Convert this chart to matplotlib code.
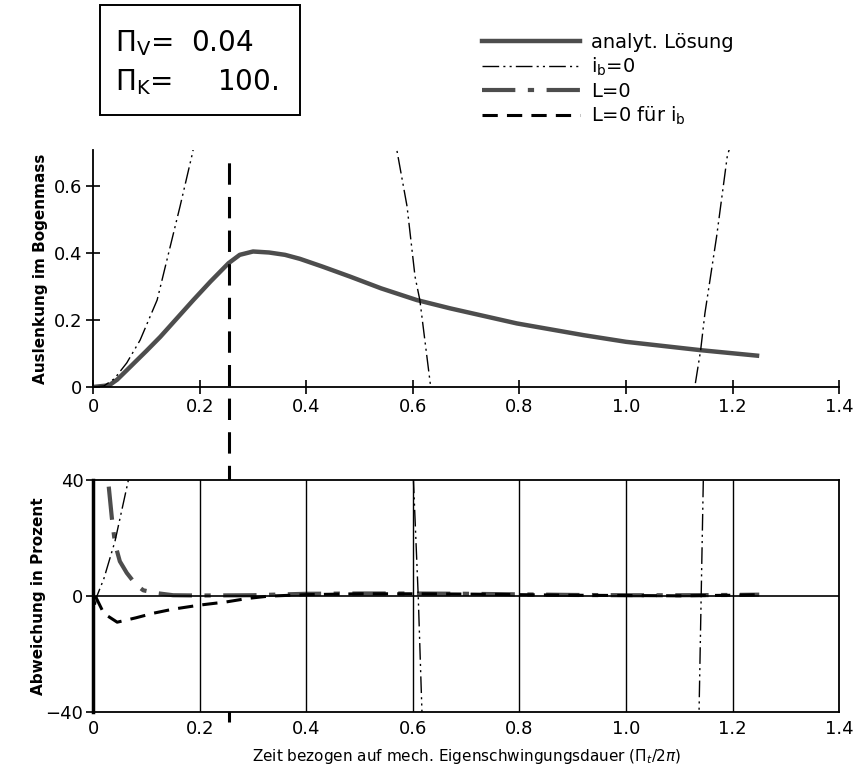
import matplotlib

matplotlib.use("Agg")
import matplotlib.pyplot as plt
from matplotlib.lines import Line2D
from matplotlib.patches import Rectangle
from matplotlib.transforms import blended_transform_factory

# upper panel: displacement (rad) over t / T_mech
t_analyt = [0, 0.03, 0.045, 0.063, 0.1, 0.126, 0.188, 0.22, 0.254, 0.275, 0.3, 0.33,
            0.36, 0.388, 0.43, 0.482, 0.54, 0.607, 0.67, 0.795, 0.92, 1.0, 1.14, 1.25]
y_analyt = [0, 0.005, 0.022, 0.05, 0.108, 0.15, 0.26, 0.315, 0.37, 0.395, 0.405, 0.402,
            0.395, 0.383, 0.36, 0.33, 0.295, 0.26, 0.235, 0.19, 0.155, 0.135, 0.11, 0.093]

t_ib0 = [0, 0.02, 0.04, 0.063, 0.088, 0.12, 0.163, 0.185, 0.2, 0.4, 0.56, 0.57, 0.589,
         0.604, 0.613, 0.633, 0.65, 0.9, 1.12, 1.129, 1.14, 1.148, 1.17, 1.19, 1.21]
y_ib0 = [0, 0.003, 0.025, 0.072, 0.14, 0.26, 0.54, 0.69, 0.8, 1.5, 0.76, 0.707, 0.54,
         0.33, 0.26, 0.005, -0.06, -0.8, -0.03, 0, 0.11, 0.22, 0.45, 0.69, 0.8]

# lower panel: deviation in percent
t_dev_ib0 = [0.004, 0.007, 0.02, 0.041, 0.066, 0.08, 0.59, 0.601, 0.61, 0.617, 0.63,
             1.13, 1.137, 1.145, 1.16]
v_dev_ib0 = [-3, 0, 6, 19, 40, 55, 60, 40, 0, -40, -60, -60, -40, 40, 60]

t_dev_L0 = [0.02, 0.028, 0.035, 0.041, 0.05, 0.063, 0.08, 0.094, 0.12, 0.15, 0.2, 0.3,
            0.4, 0.5, 0.6, 0.7, 0.8, 0.9, 1.0, 1.1, 1.2, 1.25]
v_dev_L0 = [60, 40, 27, 18, 12, 8, 4, 2, 1, 0.3, 0.2, 0.3, 0.8, 0.9, 0.9, 0.8, 0.6,
            0.4, 0.3, 0.3, 0.4, 0.5]

t_dev_L0ib = [0.004, 0.02, 0.045, 0.08, 0.113, 0.15, 0.2, 0.25, 0.29, 0.33, 0.4, 0.5,
              0.6, 0.7, 0.8, 0.9, 1.0, 1.1, 1.2, 1.25]
v_dev_L0ib = [0, -6, -9, -7.5, -5.9, -4.5, -3.1, -2, -0.8, 0, 0.5, 0.8, 0.8, 0.7, 0.5,
              0.3, 0.2, 0.1, 0.3, 0.5]

singular_t = 0.255
x_ticks = [0, 0.2, 0.4, 0.6, 0.8, 1.0, 1.2, 1.4]
x_labels = ["0", "0.2", "0.4", "0.6", "0.8", "1.0", "1.2", "1.4"]

plt.rcParams["font.family"] = "DejaVu Sans"

IB0_DASH = (12, 3, 1.5, 3, 1.5, 3)
L0_DASH = (8, 3, 1.5, 3)
L0IB_DASH = (5, 3)

fig = plt.figure(figsize=(8.55, 7.78), dpi=100)
ax_up = fig.add_axes([0.109, 0.5026, 0.8725, 0.304])
ax_lo = fig.add_axes([0.109, 0.0848, 0.8725, 0.298])

# upper
ax_up.plot(t_analyt, y_analyt, color="0.3", lw=3.2, solid_capstyle="butt",
           solid_joinstyle="round")
ax_up.plot(t_ib0, y_ib0, color="black", lw=1.0, dashes=IB0_DASH)
ax_up.set_xlim(0, 1.4)
ax_up.set_ylim(0, 0.707)
ax_up.spines["top"].set_visible(False)
ax_up.spines["right"].set_visible(False)
for sp in ("left", "bottom"):
    ax_up.spines[sp].set_linewidth(1.3)
ax_up.set_xticks(x_ticks)
ax_up.set_xticklabels(x_labels)
ax_up.set_yticks([0, 0.2, 0.4, 0.6])
ax_up.set_yticklabels(["0", "0.2", "0.4", "0.6"])
ax_up.tick_params(direction="inout", length=10, width=1.2, labelsize=13, pad=3)
ax_up.set_ylabel("Auslenkung im Bogenmass", fontsize=11, fontweight="bold", labelpad=4)

# lower
ax_lo.plot(t_dev_L0, v_dev_L0, color="0.3", lw=3.0, dashes=L0_DASH)
ax_lo.plot(t_dev_L0ib, v_dev_L0ib, color="black", lw=2.2, dashes=L0IB_DASH)
ax_lo.plot(t_dev_ib0, v_dev_ib0, color="black", lw=1.0, dashes=IB0_DASH)
ax_lo.axhline(0, color="black", lw=1.2)
for xv in x_ticks[1:-1]:
    ax_lo.axvline(xv, color="black", lw=1.0)
ax_lo.set_xlim(0, 1.4)
ax_lo.set_ylim(-40, 40)
for sp in ax_lo.spines.values():
    sp.set_linewidth(1.3)
ax_lo.spines["left"].set_linewidth(2.5)
ax_lo.set_xticks(x_ticks)
ax_lo.set_xticklabels(x_labels)
ax_lo.set_yticks([-40, 0, 40])
ax_lo.set_yticklabels(["\u221240", "0", "40"])
ax_lo.tick_params(axis="x", length=0, labelsize=13, pad=6)
ax_lo.tick_params(axis="y", direction="out", length=5, width=1.2, labelsize=13, pad=2)
ax_lo.set_ylabel("Abweichung in Prozent", fontsize=11, fontweight="bold", labelpad=0)
ax_lo.set_xlabel(r"Zeit bezogen auf mech. Eigenschwingungsdauer ($\Pi_t/2\pi$)",
                 fontsize=11, labelpad=6)

# vertical dashed singularity crossing both panels
trans = blended_transform_factory(ax_up.transData, fig.transFigure)
ax_up.plot([singular_t, singular_t], [0.072, 0.797], transform=trans, color="black",
           lw=2.2, dashes=(7, 4), clip_on=False)

# parameter box
fig.add_artist(Rectangle((0.117, 0.852), 0.234, 0.142, transform=fig.transFigure,
                         fill=False, lw=1.4, color="black"))
fig.text(0.135, 0.945, r"$\Pi_\mathrm{V}$=  0.04", fontsize=20, va="center")
fig.text(0.135, 0.895, r"$\Pi_\mathrm{K}$=     100.", fontsize=20, va="center")

# legend
handles = [
    Line2D([], [], color="0.3", lw=3.2),
    Line2D([], [], color="black", lw=1.0, dashes=IB0_DASH),
    Line2D([], [], color="0.3", lw=3.0, dashes=L0_DASH),
    Line2D([], [], color="black", lw=2.2, dashes=L0IB_DASH),
]
labels = ["analyt. Lösung", r"i$_\mathrm{b}$=0", "L=0", r"L=0 für i$_\mathrm{b}$"]
fig.legend(handles, labels, loc="upper left", bbox_to_anchor=(0.555, 0.968),
           frameon=False, fontsize=14, handlelength=5.0, handletextpad=0.6,
           labelspacing=0.2, borderaxespad=0)

fig.savefig("out.png", dpi=100)
